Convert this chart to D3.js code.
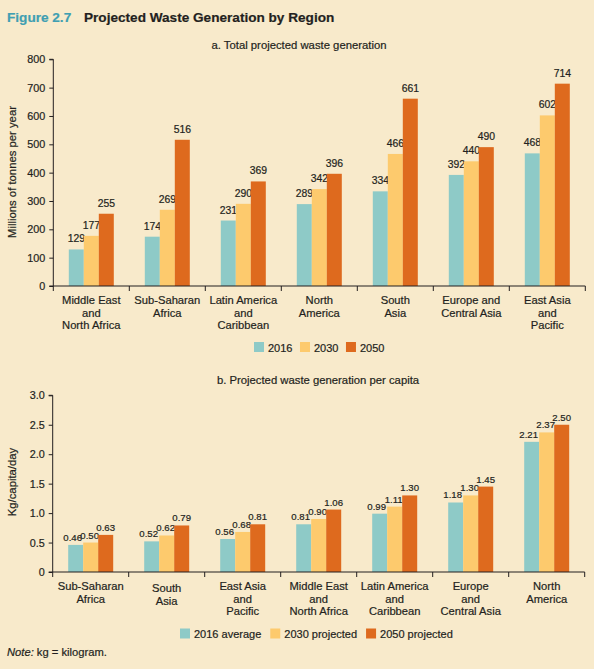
<!DOCTYPE html>
<html><head><meta charset="utf-8">
<script src="https://cdn.jsdelivr.net/npm/d3@7/dist/d3.min.js"></script>
<style>
html,body{margin:0;padding:0;background:#f8eacb;}
svg{display:block;font-family:"Liberation Sans",Arial,Helvetica,sans-serif;}
svg text{stroke:#231f20;stroke-width:0.2px;}
</style></head>
<body>
<svg id="c" width="594" height="669"></svg>
<script>
// ---- Data ----
const regionsA = ["Middle East\nand\nNorth Africa","Sub-Saharan\nAfrica","Latin America\nand\nCaribbean","North\nAmerica","South\nAsia","Europe and\nCentral Asia","East Asia\nand\nPacific"];
const seriesA = ["2016","2030","2050"];
const totals2016 = [129,174,231,289,334,392,468];
const totals2030 = [177,269,290,342,466,440,602];
const totals2050 = [255,516,369,396,661,490,714];
const ticksA = [0,100,200,300,400,500,600,700,800];

const regionsB = ["Sub-Saharan\nAfrica","South\nAsia","East Asia\nand\nPacific","Middle East\nand\nNorth Africa","Latin America\nand\nCaribbean","Europe\nand\nCentral Asia","North\nAmerica"];
const seriesB = ["2016 average","2030 projected","2050 projected"];
const perCap2016 = [0.46,0.52,0.56,0.81,0.99,1.18,2.21];
const perCap2030 = [0.50,0.62,0.68,0.90,1.11,1.30,2.37];
const perCap2050 = [0.63,0.79,0.81,1.06,1.30,1.45,2.50];
const ticksB = [0,0.5,1.0,1.5,2.0,2.5,3.0];

const colors = ["#8ecac7","#fdca6d","#de6a1e"];
const ink = "#231f20";

const svg = d3.select("#c");

// Title
const t = svg.append("text").attr("x",7).attr("y",22).attr("font-size",13.6).attr("font-weight","bold");
t.append("tspan").attr("fill","#3f9fb2").attr("stroke","#3f9fb2").text("Figure 2.7");
t.append("tspan").attr("x",84).attr("fill",ink).text("Projected Waste Generation by Region");

function panel(opts){
  const {regions, series, values, ticks, y0, y1, xl, xr, fmtTick, fmtLabel, labelGap, labelSize, subtitle, subX, subY, ylabel, ylabelY, legendX, legendY, legendGap, labelDx, lineDy} = opts;
  const g = svg.append("g");
  const x = d3.scaleBand().domain(regions).range([xl,xr]).padding(0);
  const bw = x.bandwidth();
  const xs = d3.scaleBand().domain(series).range([(bw-45)/2,(bw+45)/2]).padding(0);
  const y = d3.scaleLinear().domain([ticks[0],ticks[ticks.length-1]]).range([y0,y1]);

  // subtitle
  g.append("text").attr("x",subX).attr("y",subY).attr("text-anchor","middle").attr("font-size",11.3).attr("fill",ink).text(subtitle);
  // y label
  g.append("text").attr("transform",`translate(16,${ylabelY}) rotate(-90)`).attr("text-anchor","middle").attr("font-size",11.3).attr("fill",ink).text(ylabel);

  // bars
  regions.forEach((r,i)=>{
    series.forEach((s,j)=>{
      const v = values[j][i];
      g.append("rect").attr("x",x(r)+xs(s)).attr("width",xs.bandwidth())
        .attr("y",y(v)).attr("height",y0-y(v)).attr("fill",colors[j]);
      g.append("text").attr("x",x(r)+xs(s)+xs.bandwidth()/2+labelDx[j]).attr("y",y(v)-labelGap)
        .attr("text-anchor","middle").attr("font-size",labelSize).attr("fill",ink).text(fmtLabel(v));
    });
  });

  // y axis
  const ya = g.append("g").attr("transform",`translate(${xl},0)`)
    .call(d3.axisLeft(y).tickValues(ticks).tickSize(4).tickPadding(4).tickFormat(fmtTick));
  ya.select(".domain").attr("stroke",ink).attr("d",`M-4,${y1}H0V${y0}`);
  ya.selectAll(".tick line").attr("stroke",ink);
  ya.selectAll(".tick text").attr("font-size",10.8).attr("fill",ink).attr("font-family","Liberation Sans, Arial, sans-serif");

  // x axis
  const xa = g.append("g").attr("transform",`translate(0,${y0})`);
  xa.append("line").attr("x1",xl-4).attr("x2",xr).attr("stroke",ink).attr("stroke-width",1.2);
  const bounds = regions.map(r=>x(r)).concat([xr]);
  xa.selectAll("line.tk").data(bounds).join("line").attr("class","tk")
    .attr("x1",d=>d).attr("x2",d=>d).attr("y1",0).attr("y2",5).attr("stroke",ink);
  regions.forEach((r,i)=>{
    const tx = xa.append("text").attr("text-anchor","middle").attr("font-size",11.2).attr("fill",ink);
    r.split("\n").forEach((line,k)=>{
      tx.append("tspan").attr("x",x(r)+bw/2).attr("y",18+(lineDy[i]||0)+k*12.6).text(line);
    });
  });

  // legend
  const lg = g.append("g");
  let lx = legendX;
  series.forEach((s,j)=>{
    lg.append("rect").attr("x",lx).attr("y",legendY-9.5).attr("width",10).attr("height",10).attr("fill",colors[j]);
    const tt = lg.append("text").attr("x",lx+14).attr("y",legendY).attr("font-size",11).attr("fill",ink).text(s);
    lx += 14 + tt.node().getComputedTextLength() + legendGap;
  });
}

panel({regions:regionsA, series:seriesA, values:[totals2016,totals2030,totals2050], ticks:ticksA,
  y0:286, y1:59.3, xl:53.3, xr:585.3, fmtTick:d3.format("d"), fmtLabel:d3.format("d"), labelGap:7, labelSize:10.4,
  subtitle:"a. Total projected waste generation", subX:299, subY:49, ylabel:"Millions of tonnes per year", ylabelY:172,
  legendX:254, legendY:351.5, legendGap:7.5, labelDx:[0,0,0], lineDy:[]});

panel({regions:regionsB, series:seriesB, values:[perCap2016,perCap2030,perCap2050], ticks:ticksB,
  y0:572, y1:395.3, xl:52.7, xr:584.7, fmtTick:d=>d===0?"0":d3.format(".1f")(d), fmtLabel:d3.format(".2f"), labelGap:4, labelSize:9.6,
  subtitle:"b. Projected waste generation per capita", subX:318, subY:384, ylabel:"Kg/capita/day", ylabelY:482,
  legendX:180, legendY:638, legendGap:9, labelDx:[-3,-1,0], lineDy:[0,2,0,0,0,0,0]});

// Note
const n = svg.append("text").attr("x",7).attr("y",655.5).attr("font-size",11.2).attr("fill",ink);
n.append("tspan").attr("font-style","italic").text("Note:");
n.append("tspan").text(" kg = kilogram.");
</script>
</body></html>
